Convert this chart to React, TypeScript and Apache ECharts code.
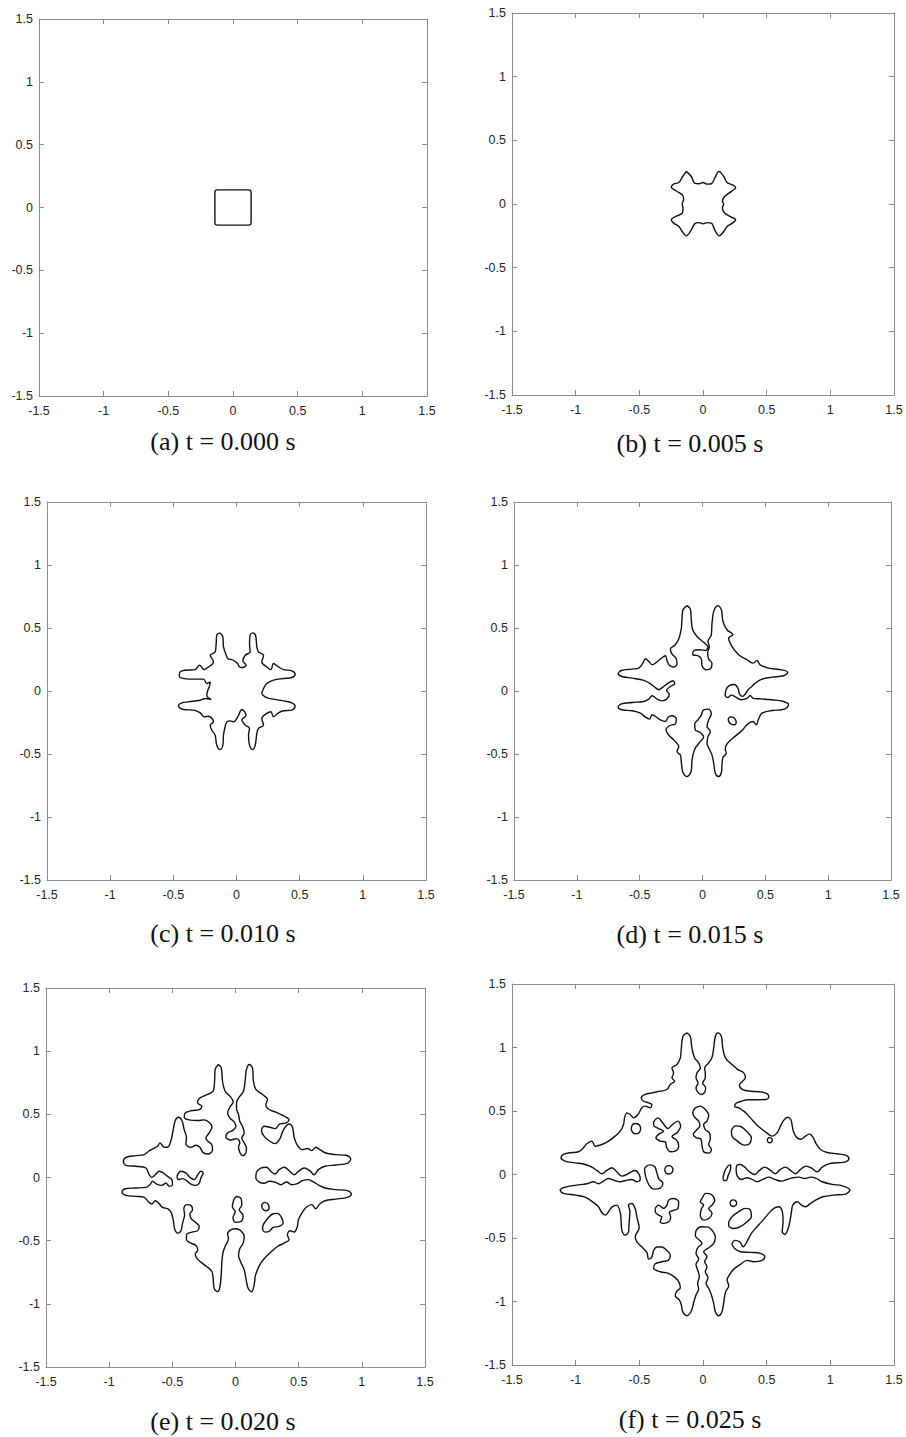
import React, { useEffect, useRef } from "react";
import * as echarts from "echarts";

// Axis range shared by every panel
const AXIS_MIN = -1.5;
const AXIS_MAX = 1.5;
const AXIS_STEP = 0.5;

const captions = [
  "(a) t = 0.000 s",
  "(b) t = 0.005 s",
  "(c) t = 0.010 s",
  "(d) t = 0.015 s",
  "(e) t = 0.020 s",
  "(f) t = 0.025 s",
];

// (a) initial square interface
const contourA = [
  [-0.14, -0.12], [-0.14, 0.12], [-0.136, 0.136], [-0.12, 0.14], [0.12, 0.14], [0.136, 0.136],
  [0.14, 0.12], [0.14, -0.12], [0.136, -0.136], [0.12, -0.14], [-0.12, -0.14], [-0.136, -0.136],
  [-0.14, -0.12],
];

// (b) t = 0.005
const contourB = [
  [-0.131, 0.256], [-0.092, 0.216], [-0.066, 0.164], [-0.031, 0.159], [0, 0.169], [0.034, 0.156],
  [0.066, 0.159], [0.092, 0.203], [0.126, 0.256], [0.163, 0.216], [0.189, 0.169], [0.236, 0.148],
  [0.257, 0.13], [0.223, 0.099], [0.17, 0.059], [0.152, 0.02], [0.163, 0.0], [0.152, -0.03],
  [0.17, -0.07], [0.223, -0.103], [0.257, -0.124], [0.231, -0.15], [0.189, -0.176], [0.163, -0.216],
  [0.126, -0.25], [0.092, -0.203], [0.066, -0.15], [0.034, -0.146], [0, -0.156], [-0.031, -0.146],
  [-0.066, -0.156], [-0.092, -0.203], [-0.131, -0.25], [-0.163, -0.216], [-0.189, -0.176],
  [-0.231, -0.15], [-0.249, -0.124], [-0.215, -0.098], [-0.163, -0.072], [-0.157, -0.033],
  [-0.163, 0], [-0.152, 0.038], [-0.163, 0.072], [-0.215, 0.106], [-0.249, 0.132], [-0.231, 0.156],
  [-0.189, 0.169], [-0.163, 0.21], [-0.131, 0.256],
];

// (c) t = 0.010
const contourC = [
  [-0.129, 0.461], [-0.108, 0.429], [-0.103, 0.35], [-0.076, 0.271], [-0.069, 0.257], [-0.024, 0.244],
  [0.008, 0.218], [0.024, 0.191], [0.042, 0.186], [0.076, 0.205], [0.05, 0.239], [0.069, 0.284],
  [0.108, 0.31], [0.103, 0.376], [0.108, 0.445], [0.127, 0.461], [0.15, 0.445], [0.161, 0.35],
  [0.174, 0.31], [0.214, 0.284], [0.2, 0.231], [0.24, 0.191], [0.272, 0.17], [0.293, 0.218],
  [0.332, 0.191], [0.372, 0.17], [0.438, 0.16], [0.464, 0.133], [0.438, 0.107], [0.372, 0.099],
  [0.293, 0.086], [0.24, 0.059], [0.214, 0.02], [0.2, -0.02], [0.227, -0.046], [0.266, -0.06],
  [0.372, -0.078], [0.438, -0.094], [0.464, -0.121], [0.438, -0.152], [0.372, -0.157], [0.332, -0.173],
  [0.293, -0.205], [0.272, -0.165], [0.24, -0.178], [0.2, -0.218], [0.214, -0.271], [0.174, -0.297],
  [0.161, -0.337], [0.148, -0.43], [0.127, -0.465], [0.103, -0.43], [0.095, -0.35], [0.103, -0.297],
  [0.069, -0.271], [0.042, -0.231], [0.076, -0.192], [0.042, -0.147], [0.008, -0.21], [-0.024, -0.245],
  [-0.05, -0.237], [-0.076, -0.245], [-0.09, -0.284], [-0.103, -0.35], [-0.108, -0.43], [-0.129, -0.465],
  [-0.156, -0.43], [-0.169, -0.35], [-0.195, -0.311], [-0.208, -0.271], [-0.182, -0.245], [-0.221, -0.2],
  [-0.256, -0.205], [-0.287, -0.173], [-0.34, -0.152], [-0.419, -0.147], [-0.453, -0.131], [-0.459, -0.113],
  [-0.432, -0.094], [-0.38, -0.086], [-0.287, -0.073], [-0.248, -0.06], [-0.2, -0.068], [-0.235, -0.033],
  [-0.227, 0.006], [-0.214, 0.038], [-0.208, 0.072], [-0.235, 0.059], [-0.261, 0.094], [-0.366, 0.094],
  [-0.432, 0.102], [-0.453, 0.12], [-0.446, 0.152], [-0.406, 0.165], [-0.327, 0.17], [-0.293, 0.205],
  [-0.256, 0.17], [-0.221, 0.191], [-0.182, 0.231], [-0.208, 0.284], [-0.169, 0.31], [-0.161, 0.376],
  [-0.156, 0.445], [-0.129, 0.461],
];

// (d) t = 0.015
const outerD = [
  [-0.123, 0.677], [-0.097, 0.65], [-0.089, 0.566], [-0.078, 0.486], [-0.044, 0.433], [0.009, 0.386],
  [0.044, 0.349], [0.023, 0.322], [-0.025, 0.327], [-0.07, 0.319], [-0.078, 0.288], [-0.036, 0.28],
  [-0.009, 0.253], [-0.004, 0.2], [0.03, 0.168], [0.068, 0.182], [0.075, 0.221], [0.049, 0.253],
  [0.041, 0.301], [0.054, 0.354], [0.044, 0.393], [0.07, 0.446], [0.075, 0.526], [0.089, 0.632],
  [0.123, 0.677], [0.15, 0.645], [0.163, 0.552], [0.195, 0.486], [0.242, 0.446], [0.208, 0.42],
  [0.234, 0.354], [0.288, 0.288], [0.354, 0.248], [0.404, 0.221], [0.433, 0.243], [0.459, 0.208],
  [0.526, 0.182], [0.632, 0.168], [0.679, 0.147], [0.645, 0.121], [0.552, 0.11], [0.473, 0.094],
  [0.42, 0.062], [0.393, 0.036], [0.367, 0.015], [0.34, -0.025], [0.319, -0.043], [0.295, -0.025],
  [0.282, 0.023], [0.253, 0.052], [0.216, 0.044], [0.187, 0.01], [0.181, -0.036], [0.203, -0.051],
  [0.229, -0.033], [0.266, -0.049], [0.309, -0.07], [0.354, -0.059], [0.38, -0.036], [0.404, -0.059],
  [0.459, -0.062], [0.552, -0.07], [0.645, -0.083], [0.685, -0.11], [0.653, -0.144], [0.552, -0.155],
  [0.473, -0.176], [0.446, -0.223], [0.428, -0.268], [0.401, -0.242], [0.361, -0.261], [0.314, -0.314],
  [0.24, -0.375], [0.195, -0.419], [0.181, -0.462], [0.189, -0.494], [0.163, -0.526], [0.155, -0.587],
  [0.15, -0.647], [0.128, -0.679], [0.102, -0.652], [0.089, -0.573], [0.075, -0.507], [0.054, -0.462],
  [0.036, -0.415], [0.044, -0.362], [0.062, -0.321], [0.036, -0.282], [0.049, -0.229], [0.07, -0.181],
  [0.049, -0.144], [0.009, -0.149], [-0.009, -0.189], [-0.036, -0.229], [-0.062, -0.261], [-0.057, -0.309],
  [-0.017, -0.33], [0.009, -0.366], [-0.025, -0.409], [-0.062, -0.462], [-0.083, -0.547], [-0.091, -0.639],
  [-0.123, -0.679], [-0.155, -0.647], [-0.168, -0.573], [-0.176, -0.507], [-0.203, -0.481], [-0.189, -0.441],
  [-0.229, -0.388], [-0.269, -0.349], [-0.29, -0.309], [-0.264, -0.276], [-0.216, -0.261], [-0.208, -0.223],
  [-0.242, -0.197], [-0.274, -0.208], [-0.295, -0.242], [-0.335, -0.229], [-0.375, -0.202], [-0.401, -0.189],
  [-0.422, -0.223], [-0.454, -0.208], [-0.494, -0.176], [-0.56, -0.157], [-0.64, -0.149], [-0.671, -0.128],
  [-0.645, -0.102], [-0.56, -0.091], [-0.467, -0.083], [-0.428, -0.065], [-0.401, -0.038], [-0.361, -0.065],
  [-0.322, -0.078], [-0.282, -0.062], [-0.264, -0.025], [-0.287, 0.004], [-0.256, 0.036], [-0.221, 0.057],
  [-0.234, 0.081], [-0.274, 0.062], [-0.316, 0.031], [-0.348, 0.01], [-0.38, 0.031], [-0.414, 0.057],
  [-0.467, 0.084], [-0.56, 0.102], [-0.64, 0.115], [-0.671, 0.137], [-0.645, 0.163], [-0.56, 0.174],
  [-0.507, 0.182], [-0.475, 0.221], [-0.454, 0.256], [-0.428, 0.235], [-0.401, 0.208], [-0.367, 0.227],
  [-0.327, 0.261], [-0.295, 0.28], [-0.282, 0.24], [-0.264, 0.205], [-0.229, 0.19], [-0.203, 0.216],
  [-0.211, 0.261], [-0.242, 0.293], [-0.256, 0.333], [-0.216, 0.367], [-0.189, 0.412], [-0.176, 0.46],
  [-0.168, 0.499], [-0.163, 0.579], [-0.155, 0.645], [-0.123, 0.677],
];
const islandD1 = [
  [0.215, -0.205], [0.24, -0.208], [0.262, -0.228], [0.268, -0.252], [0.255, -0.268], [0.232, -0.265],
  [0.212, -0.248], [0.205, -0.225], [0.215, -0.205],
];

// (e) t = 0.020
const outerE = [
  [-0.137, 0.895], [-0.113, 0.868], [-0.103, 0.763], [-0.082, 0.683], [-0.037, 0.636], [-0.018, 0.599],
  [-0.045, 0.556], [-0.063, 0.511], [-0.045, 0.472], [-0.011, 0.44], [0.003, 0.406], [-0.024, 0.371],
  [-0.063, 0.353], [-0.076, 0.319], [-0.037, 0.297], [0.008, 0.308], [0.034, 0.276], [0.024, 0.239],
  [0.034, 0.2], [0.055, 0.173], [0.082, 0.194], [0.087, 0.234], [0.069, 0.274], [0.05, 0.313],
  [0.069, 0.353], [0.055, 0.406], [0.034, 0.445], [0.024, 0.498], [0.008, 0.546], [0.008, 0.591],
  [0.029, 0.636], [0.063, 0.683], [0.076, 0.763], [0.087, 0.855], [0.108, 0.895], [0.134, 0.868],
  [0.142, 0.763], [0.161, 0.697], [0.214, 0.657], [0.253, 0.617], [0.24, 0.572], [0.266, 0.538],
  [0.319, 0.517], [0.385, 0.485], [0.424, 0.459], [0.398, 0.43], [0.351, 0.424], [0.314, 0.387],
  [0.272, 0.398], [0.227, 0.406], [0.206, 0.371], [0.227, 0.326], [0.272, 0.287], [0.314, 0.268],
  [0.351, 0.305], [0.372, 0.361], [0.398, 0.406], [0.424, 0.424], [0.451, 0.398], [0.464, 0.319],
  [0.49, 0.255], [0.53, 0.221], [0.569, 0.229], [0.604, 0.213], [0.635, 0.239], [0.667, 0.221],
  [0.714, 0.194], [0.794, 0.181], [0.873, 0.176], [0.912, 0.147], [0.886, 0.112], [0.794, 0.099],
  [0.709, 0.089], [0.656, 0.062], [0.622, 0.022], [0.588, 0.054], [0.543, 0.075], [0.498, 0.049],
  [0.464, 0.022], [0.424, 0.054], [0.385, 0.081], [0.345, 0.062], [0.314, 0.028], [0.279, 0.049],
  [0.245, 0.081], [0.2, 0.075], [0.166, 0.041], [0.161, -0.004], [0.187, -0.036], [0.227, -0.046],
  [0.266, -0.03], [0.314, -0.036], [0.359, -0.057], [0.403, -0.036], [0.446, -0.057], [0.49, -0.049],
  [0.53, -0.025], [0.577, -0.017], [0.622, -0.038], [0.662, -0.062], [0.709, -0.083], [0.794, -0.096],
  [0.886, -0.104], [0.917, -0.131], [0.886, -0.157], [0.794, -0.171], [0.709, -0.184], [0.667, -0.21],
  [0.635, -0.247], [0.604, -0.215], [0.562, -0.234], [0.53, -0.274], [0.498, -0.334], [0.49, -0.387],
  [0.464, -0.432], [0.43, -0.422], [0.411, -0.453], [0.424, -0.493], [0.385, -0.519], [0.332, -0.546],
  [0.279, -0.591], [0.235, -0.633], [0.2, -0.678], [0.174, -0.731], [0.156, -0.784], [0.148, -0.85],
  [0.127, -0.905], [0.1, -0.876], [0.082, -0.797], [0.069, -0.731], [0.042, -0.67], [0.024, -0.617],
  [0.034, -0.564], [0.061, -0.519], [0.069, -0.467], [0.042, -0.422], [0.003, -0.406], [-0.037, -0.414],
  [-0.063, -0.445], [-0.055, -0.485], [-0.076, -0.533], [-0.098, -0.591], [-0.108, -0.67], [-0.113, -0.771],
  [-0.124, -0.871], [-0.142, -0.903], [-0.169, -0.876], [-0.177, -0.797], [-0.187, -0.744], [-0.229, -0.704],
  [-0.274, -0.67], [-0.306, -0.638], [-0.319, -0.607], [-0.298, -0.572], [-0.314, -0.538], [-0.353, -0.519],
  [-0.388, -0.493], [-0.388, -0.453], [-0.345, -0.432], [-0.301, -0.422], [-0.287, -0.387], [-0.319, -0.353],
  [-0.351, -0.326], [-0.361, -0.289], [-0.34, -0.255], [-0.353, -0.221], [-0.388, -0.215], [-0.409, -0.247],
  [-0.403, -0.295], [-0.419, -0.361], [-0.432, -0.422], [-0.459, -0.44], [-0.482, -0.406], [-0.493, -0.334],
  [-0.511, -0.274], [-0.538, -0.247], [-0.577, -0.237], [-0.609, -0.202], [-0.635, -0.184], [-0.662, -0.21],
  [-0.688, -0.194], [-0.722, -0.157], [-0.788, -0.149], [-0.867, -0.141], [-0.899, -0.115], [-0.873, -0.089],
  [-0.788, -0.083], [-0.709, -0.078], [-0.678, -0.057], [-0.656, -0.03], [-0.625, -0.052], [-0.583, -0.062],
  [-0.551, -0.044], [-0.525, -0.07], [-0.498, -0.057], [-0.504, -0.017], [-0.538, 0.009], [-0.572, 0.036],
  [-0.604, 0.049], [-0.635, 0.022], [-0.662, 0.001], [-0.683, 0.022], [-0.709, 0.075], [-0.788, 0.089],
  [-0.867, 0.096], [-0.888, 0.126], [-0.867, 0.16], [-0.788, 0.173], [-0.722, 0.181], [-0.688, 0.208],
  [-0.651, 0.229], [-0.617, 0.247], [-0.598, 0.274], [-0.564, 0.239], [-0.538, 0.239], [-0.511, 0.292],
  [-0.493, 0.379], [-0.477, 0.451], [-0.451, 0.477], [-0.424, 0.451], [-0.406, 0.379], [-0.388, 0.313],
  [-0.393, 0.266], [-0.353, 0.239], [-0.314, 0.255], [-0.282, 0.239], [-0.256, 0.197], [-0.214, 0.186],
  [-0.182, 0.218], [-0.187, 0.26], [-0.219, 0.287], [-0.235, 0.313], [-0.208, 0.353], [-0.187, 0.398],
  [-0.203, 0.432], [-0.248, 0.456], [-0.301, 0.451], [-0.367, 0.456], [-0.406, 0.477], [-0.398, 0.511],
  [-0.345, 0.53], [-0.287, 0.538], [-0.266, 0.564], [-0.301, 0.591], [-0.287, 0.625], [-0.235, 0.652],
  [-0.177, 0.683], [-0.166, 0.757], [-0.161, 0.855], [-0.137, 0.895],
];
const islandE1 = [
  [-0.018, -0.19], [0.01, -0.15], [0.045, -0.17], [0.05, -0.215], [0.03, -0.255], [0.06, -0.3],
  [0.04, -0.35], [0.0, -0.355], [-0.02, -0.318], [-0.002, -0.27], [-0.025, -0.232], [-0.018, -0.19],
];
const islandE2 = [
  [-0.464, 0.009], [-0.432, 0.049], [-0.393, 0.036], [-0.361, 0.001], [-0.327, -0.017], [-0.301, 0.017],
  [-0.274, 0.049], [-0.256, 0.036], [-0.274, -0.004], [-0.287, -0.044], [-0.314, -0.062], [-0.353, -0.052],
  [-0.388, -0.025], [-0.419, -0.009], [-0.451, -0.017], [-0.464, 0.009],
];
const islandE3 = [
  [0.206, -0.215], [0.232, -0.197], [0.261, -0.215], [0.266, -0.247], [0.24, -0.263], [0.214, -0.247],
  [0.206, -0.215],
];
const islandE4 = [
  [0.219, -0.374], [0.253, -0.327], [0.293, -0.289], [0.332, -0.284], [0.364, -0.316], [0.377, -0.363],
  [0.345, -0.387], [0.298, -0.395], [0.266, -0.427], [0.235, -0.432], [0.214, -0.406], [0.219, -0.374],
];

// (f) t = 0.025
const outerF = [
  [-0.126, 1.115], [-0.1, 1.089], [-0.087, 0.997], [-0.066, 0.918], [-0.034, 0.879], [-0.021, 0.839],
  [-0.047, 0.8], [-0.055, 0.761], [-0.039, 0.721], [-0.055, 0.682], [-0.042, 0.651], [-0.016, 0.63],
  [0.01, 0.643], [0.021, 0.682], [-0.003, 0.721], [0.018, 0.761], [0.018, 0.8], [0.013, 0.839],
  [0.045, 0.879], [0.071, 0.923], [0.084, 0.997], [0.097, 1.089], [0.118, 1.115], [0.144, 1.089],
  [0.155, 0.997], [0.176, 0.918], [0.228, 0.866], [0.275, 0.826], [0.32, 0.8], [0.333, 0.761],
  [0.312, 0.735], [0.286, 0.703], [0.312, 0.669], [0.38, 0.656], [0.451, 0.651], [0.504, 0.635],
  [0.517, 0.609], [0.49, 0.59], [0.425, 0.588], [0.354, 0.588], [0.302, 0.577], [0.26, 0.561],
  [0.249, 0.535], [0.281, 0.525], [0.328, 0.493], [0.372, 0.446], [0.425, 0.388], [0.49, 0.336],
  [0.543, 0.302], [0.582, 0.328], [0.608, 0.381], [0.635, 0.428], [0.664, 0.451], [0.69, 0.433],
  [0.7, 0.388], [0.711, 0.336], [0.734, 0.294], [0.768, 0.278], [0.805, 0.302], [0.837, 0.32],
  [0.863, 0.294], [0.889, 0.242], [0.923, 0.197], [0.976, 0.173], [1.054, 0.163], [1.12, 0.152],
  [1.146, 0.126], [1.12, 0.1], [1.054, 0.092], [0.989, 0.084], [0.936, 0.058], [0.897, 0.021],
  [0.858, 0.047], [0.81, 0.066], [0.766, 0.04], [0.726, 0.006], [0.687, 0.032], [0.648, 0.058],
  [0.608, 0.04], [0.569, 0.006], [0.53, 0.032], [0.485, 0.058], [0.443, 0.032], [0.407, 0.0],
  [0.365, 0.021], [0.328, 0.058], [0.294, 0.079], [0.268, 0.074], [0.26, 0.04], [0.27, -0.013],
  [0.302, -0.039], [0.346, -0.026], [0.386, -0.039], [0.425, -0.057], [0.469, -0.039], [0.517, -0.021],
  [0.564, -0.039], [0.616, -0.052], [0.661, -0.039], [0.705, -0.026], [0.753, -0.021], [0.8, -0.031],
  [0.844, -0.021], [0.889, -0.031], [0.936, -0.057], [1.015, -0.078], [1.094, -0.089], [1.154, -0.123],
  [1.12, -0.154], [1.028, -0.162], [0.942, -0.175], [0.884, -0.202], [0.844, -0.228], [0.805, -0.254],
  [0.774, -0.241], [0.74, -0.215], [0.705, -0.241], [0.695, -0.293], [0.684, -0.359], [0.669, -0.425],
  [0.643, -0.472], [0.622, -0.451], [0.629, -0.372], [0.622, -0.288], [0.595, -0.254], [0.556, -0.267],
  [0.511, -0.312], [0.464, -0.367], [0.417, -0.419], [0.38, -0.464], [0.354, -0.511], [0.333, -0.55],
  [0.315, -0.569], [0.288, -0.53], [0.249, -0.519], [0.228, -0.55], [0.249, -0.582], [0.294, -0.608],
  [0.372, -0.613], [0.451, -0.621], [0.485, -0.648], [0.464, -0.676], [0.399, -0.687], [0.346, -0.676],
  [0.294, -0.708], [0.241, -0.745], [0.21, -0.787], [0.189, -0.831], [0.202, -0.876], [0.176, -0.928],
  [0.163, -1.007], [0.149, -1.08], [0.123, -1.112], [0.097, -1.08], [0.084, -1.015], [0.066, -0.949],
  [0.045, -0.897], [0.024, -0.857], [0.039, -0.813], [0.018, -0.766], [0.031, -0.726], [0.013, -0.687],
  [0.031, -0.648], [0.005, -0.608], [0.045, -0.577], [0.084, -0.543], [0.097, -0.49], [0.076, -0.446],
  [0.039, -0.414], [-0.013, -0.411], [-0.052, -0.438], [-0.06, -0.482], [-0.029, -0.516], [-0.008, -0.543],
  [-0.042, -0.577], [-0.055, -0.621], [-0.034, -0.666], [-0.055, -0.708], [-0.042, -0.752], [-0.029, -0.805],
  [-0.042, -0.857], [-0.034, -0.902], [-0.055, -0.949], [-0.073, -1.007], [-0.092, -1.075], [-0.126, -1.112],
  [-0.16, -1.08], [-0.17, -1.028], [-0.186, -0.988], [-0.218, -0.954], [-0.205, -0.918], [-0.178, -0.891],
  [-0.191, -0.844], [-0.223, -0.808], [-0.27, -0.779], [-0.336, -0.766], [-0.388, -0.739], [-0.375, -0.703],
  [-0.323, -0.687], [-0.27, -0.674], [-0.257, -0.634], [-0.283, -0.598], [-0.323, -0.571], [-0.362, -0.571],
  [-0.388, -0.598], [-0.401, -0.648], [-0.427, -0.666], [-0.441, -0.613], [-0.48, -0.571], [-0.519, -0.53],
  [-0.532, -0.49], [-0.501, -0.419], [-0.517, -0.346], [-0.532, -0.272], [-0.559, -0.228], [-0.585, -0.241],
  [-0.574, -0.293], [-0.58, -0.372], [-0.585, -0.451], [-0.611, -0.477], [-0.637, -0.44], [-0.643, -0.372],
  [-0.65, -0.299], [-0.677, -0.241], [-0.716, -0.257], [-0.742, -0.293], [-0.768, -0.32], [-0.795, -0.299],
  [-0.821, -0.254], [-0.86, -0.22], [-0.926, -0.178], [-1.004, -0.162], [-1.096, -0.149], [-1.122, -0.123],
  [-1.083, -0.099], [-0.991, -0.084], [-0.913, -0.073], [-0.86, -0.057], [-0.821, -0.073], [-0.782, -0.052],
  [-0.742, -0.031], [-0.695, -0.047], [-0.65, -0.057], [-0.606, -0.047], [-0.559, -0.039], [-0.519, -0.057],
  [-0.493, -0.039], [-0.501, 0.0], [-0.532, 0.032], [-0.564, 0.021], [-0.598, 0.0], [-0.637, -0.013],
  [-0.677, 0.021], [-0.716, 0.053], [-0.755, 0.032], [-0.795, 0.006], [-0.834, 0.032], [-0.873, 0.058],
  [-0.926, 0.079], [-1.004, 0.092], [-1.083, 0.105], [-1.115, 0.131], [-1.096, 0.158], [-1.044, 0.171],
  [-0.978, 0.179], [-0.939, 0.21], [-0.913, 0.242], [-0.873, 0.263], [-0.847, 0.223], [-0.795, 0.236],
  [-0.742, 0.263], [-0.69, 0.302], [-0.65, 0.341], [-0.624, 0.394], [-0.616, 0.446], [-0.598, 0.485],
  [-0.572, 0.472], [-0.545, 0.446], [-0.511, 0.472], [-0.48, 0.525], [-0.454, 0.538], [-0.414, 0.525],
  [-0.401, 0.551], [-0.427, 0.564], [-0.467, 0.577], [-0.485, 0.603], [-0.454, 0.63], [-0.401, 0.643],
  [-0.336, 0.656], [-0.283, 0.669], [-0.257, 0.709], [-0.223, 0.735], [-0.244, 0.761], [-0.231, 0.8],
  [-0.244, 0.839], [-0.205, 0.866], [-0.178, 0.918], [-0.17, 0.997], [-0.157, 1.089], [-0.126, 1.115],
];
const islandF1 = [
  [-0.564, 0.362], [-0.553, 0.394], [-0.527, 0.402], [-0.498, 0.388], [-0.49, 0.36], [-0.501, 0.331],
  [-0.527, 0.32], [-0.553, 0.333], [-0.564, 0.362],
];
const islandF2 = [
  [-0.388, 0.415], [-0.354, 0.446], [-0.317, 0.407], [-0.275, 0.362], [-0.239, 0.394], [-0.197, 0.42],
  [-0.176, 0.381], [-0.202, 0.331], [-0.244, 0.299], [-0.205, 0.268], [-0.191, 0.223], [-0.218, 0.184],
  [-0.257, 0.179], [-0.286, 0.215], [-0.296, 0.257], [-0.336, 0.263], [-0.37, 0.289], [-0.344, 0.32],
  [-0.309, 0.341], [-0.349, 0.362], [-0.388, 0.388], [-0.388, 0.415],
];
const islandF3 = [
  [-0.06, 0.525], [-0.021, 0.538], [0.018, 0.512], [0.045, 0.467], [0.031, 0.42], [0.005, 0.394],
  [0.018, 0.354], [0.05, 0.328], [0.058, 0.284], [0.045, 0.236], [0.066, 0.197], [0.045, 0.168],
  [0.005, 0.179], [-0.008, 0.231], [-0.018, 0.281], [-0.052, 0.289], [-0.076, 0.315], [-0.047, 0.354],
  [-0.024, 0.381], [-0.034, 0.42], [-0.066, 0.451], [-0.081, 0.488], [-0.06, 0.525],
];
const islandF4 = [
  [0.223, 0.346], [0.254, 0.383], [0.296, 0.378], [0.346, 0.336], [0.38, 0.289], [0.365, 0.242],
  [0.323, 0.231], [0.27, 0.263], [0.228, 0.302], [0.223, 0.346],
];
const islandF5 = [
  [0.504, 0.27], [0.51, 0.284], [0.524, 0.29], [0.538, 0.284], [0.544, 0.27], [0.538, 0.256],
  [0.524, 0.25], [0.51, 0.256], [0.504, 0.27],
];
const islandF6 = [
  [-0.451, -0.015], [-0.459, 0.042], [-0.42, 0.076], [-0.38, 0.063], [-0.362, 0.011], [-0.346, -0.036],
  [-0.315, -0.068], [-0.336, -0.107], [-0.38, -0.115], [-0.42, -0.089], [-0.451, -0.015],
];
const islandF7 = [
  [-0.301, 0.037], [-0.291, 0.062], [-0.268, 0.07], [-0.245, 0.06], [-0.236, 0.037], [-0.245, 0.014],
  [-0.268, 0.004], [-0.291, 0.012], [-0.301, 0.037],
];
const islandF8 = [
  [0.157, -0.029], [0.17, 0.024], [0.197, 0.068], [0.218, 0.076], [0.215, 0.037], [0.197, -0.01],
  [0.184, -0.047], [0.163, -0.047], [0.157, -0.029],
];
const islandF9 = [
  [-0.375, -0.267], [-0.349, -0.241], [-0.309, -0.267], [-0.283, -0.241], [-0.27, -0.202], [-0.231, -0.189],
  [-0.191, -0.215], [-0.197, -0.267], [-0.231, -0.283], [-0.265, -0.299], [-0.254, -0.338], [-0.27, -0.372],
  [-0.309, -0.385], [-0.336, -0.372], [-0.323, -0.333], [-0.349, -0.32], [-0.375, -0.293], [-0.375, -0.267],
];
const islandF10 = [
  [-0.008, -0.189], [0.024, -0.149], [0.066, -0.157], [0.092, -0.202], [0.071, -0.241], [0.045, -0.267],
  [0.071, -0.307], [0.045, -0.346], [0.005, -0.359], [-0.021, -0.32], [-0.013, -0.272], [0.005, -0.241],
  [-0.021, -0.215], [-0.008, -0.189],
];
const islandF11 = [
  [0.212, -0.226], [0.22, -0.207], [0.238, -0.2], [0.256, -0.207], [0.264, -0.226], [0.256, -0.245],
  [0.238, -0.252], [0.22, -0.245], [0.212, -0.226],
];
const islandF12 = [
  [0.202, -0.372], [0.228, -0.333], [0.281, -0.293], [0.333, -0.267], [0.372, -0.28], [0.38, -0.333],
  [0.346, -0.372], [0.294, -0.411], [0.241, -0.425], [0.202, -0.404], [0.202, -0.372],
];

// Panel layout (grid box in px, caption centre) and which curves it holds
const panels = [
  { grid: { left: 39, top: 19, width: 388, height: 377 }, cap: [223, 441], curves: [contourA], smooth: 0 },
  { grid: { left: 512, top: 13, width: 382, height: 382 }, cap: [690, 443], curves: [contourB], smooth: 0.35 },
  { grid: { left: 47, top: 502, width: 379, height: 378 }, cap: [223, 933], curves: [contourC], smooth: 0.35 },
  { grid: { left: 514, top: 502, width: 377, height: 378 }, cap: [690, 934], curves: [outerD, islandD1], smooth: 0.35 },
  {
    grid: { left: 46, top: 988, width: 379, height: 379 }, cap: [223, 1421],
    curves: [outerE, islandE1, islandE2, islandE3, islandE4], smooth: 0.35,
  },
  {
    grid: { left: 512, top: 984, width: 382, height: 381 }, cap: [690, 1419],
    curves: [outerF, islandF1, islandF2, islandF3, islandF4, islandF5, islandF6, islandF7,
      islandF8, islandF9, islandF10, islandF11, islandF12], smooth: 0.35,
  },
];

const AXIS_COLOR = "#8c8c8c";
const LABEL_COLOR = "#262626";

function buildOption() {
  const grids: any[] = [];
  const xAxes: any[] = [];
  const yAxes: any[] = [];
  const series: any[] = [];
  const graphics: any[] = [];

  panels.forEach((p, i) => {
    grids.push({ ...p.grid, containLabel: false, show: false });
    const base = {
      gridIndex: i,
      type: "value",
      min: AXIS_MIN,
      max: AXIS_MAX,
      interval: AXIS_STEP,
      axisLine: { show: true, onZero: false, lineStyle: { color: AXIS_COLOR, width: 1 } },
      axisTick: { show: true, inside: true, length: 5, lineStyle: { color: AXIS_COLOR, width: 1 } },
      splitLine: { show: false },
    };
    const label = {
      show: true,
      color: LABEL_COLOR,
      fontSize: 12.5,
      fontFamily: "'Liberation Sans', Arial, sans-serif",
      showMinLabel: true,
      showMaxLabel: true,
    };
    xAxes.push({ ...base, position: "bottom", axisLabel: { ...label, margin: 8 } });
    xAxes.push({ ...base, position: "top", axisLabel: { show: false } });
    yAxes.push({ ...base, position: "left", axisLabel: { ...label, margin: 6 } });
    yAxes.push({ ...base, position: "right", axisLabel: { show: false } });

    p.curves.forEach((c) => {
      series.push({
        type: "line",
        xAxisIndex: 2 * i,
        yAxisIndex: 2 * i,
        data: c,
        showSymbol: false,
        symbol: "none",
        smooth: p.smooth,
        silent: true,
        lineStyle: { color: "#111111", width: 1.4 },
      });
    });

    graphics.push({
      type: "text",
      x: p.cap[0],
      y: p.cap[1],
      silent: true,
      style: {
        text: captions[i],
        fill: "#111111",
        font: "26px 'Liberation Serif', 'Times New Roman', serif",
        align: "center",
        verticalAlign: "middle",
      },
    });
  });

  return {
    animation: false,
    backgroundColor: "#ffffff",
    grid: grids,
    xAxis: xAxes,
    yAxis: yAxes,
    series,
    graphic: graphics,
  };
}

export default function App() {
  const ref = useRef<HTMLDivElement>(null);
  useEffect(() => {
    if (!ref.current) return;
    const chart = echarts.init(ref.current, undefined, { renderer: "svg" });
    chart.setOption(buildOption());
    return () => chart.dispose();
  }, []);
  return (
    <div
      ref={ref}
      style={{ position: "absolute", left: 0, top: 0, width: 906, height: 1437, background: "#fff" }}
    />
  );
}
